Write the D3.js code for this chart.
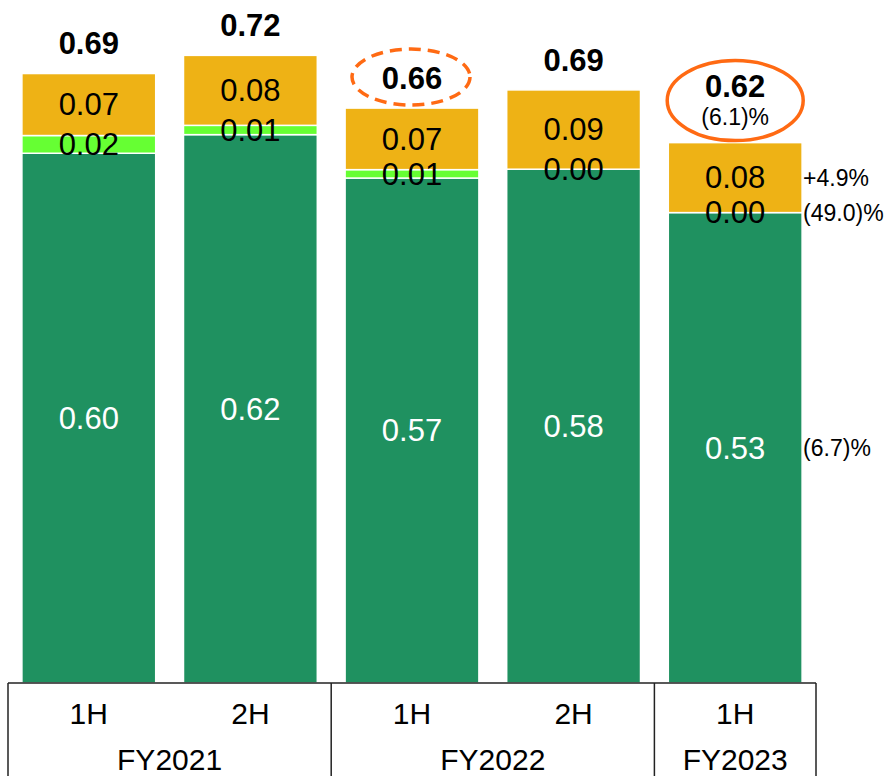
<!DOCTYPE html>
<html lang="en">
<head>
<meta charset="utf-8">
<title>Half-year stacked bars</title>
<script src="https://cdn.jsdelivr.net/npm/d3@7"></script>
<style>
  body { margin: 0; background: #fff; }
  svg { display: block; font-family: Arial, "Liberation Sans", sans-serif; }
</style>
</head>
<body>
<script>
// data
var halves = ["1H", "2H", "1H", "2H", "1H"];
var years = ["FY2021", "FY2022", "FY2023"];
var yearSpan = [2, 2, 1];
var mainVals = [0.598, 0.619, 0.570, 0.580, 0.531];
var smallVals = [0.020, 0.0105, 0.0095, 0, 0];
var otherVals = [0.070, 0.079, 0.0695, 0.0895, 0.079];
var mainLabels = ["0.60", "0.62", "0.57", "0.58", "0.53"];
var smallLabels = ["0.02", "0.01", "0.01", "0.00", "0.00"];
var otherLabels = ["0.07", "0.08", "0.07", "0.09", "0.08"];
var totalLabels = ["0.69", "0.72", "0.66", "0.69", "0.62"];
var changeLabels = ["(6.7)%", "(49.0)%", "+4.9%"]; // main, small, other for last bar
var totalChange = "(6.1)%";

var w = 888, h = 776;
var baseY = 683;
var colors = ["#1f9160", "#66ff33", "#eeb215"];
var ringColor = "#ff6a13";

var svg = d3.select("body").append("svg")
  .attr("width", w)
  .attr("height", h);

var x = d3.scaleBand()
  .domain(d3.range(halves.length))
  .range([8, 816])
  .paddingInner(0.172)
  .paddingOuter(0.086);

var y = d3.scaleLinear()
  .domain([0, 0.771])
  .range([baseY, 0]);

var rows = halves.map(function(d, i) {
  return { main: mainVals[i], small: smallVals[i], other: otherVals[i] };
});
var stack = d3.stack().keys(["main", "small", "other"])(rows);
var labelSets = [mainLabels, smallLabels, otherLabels];

// bars
stack.forEach(function(layer, k) {
  svg.append("g").selectAll("rect")
    .data(layer)
    .enter()
    .append("rect")
    .attr("x", function(d, i) { return x(i); })
    .attr("y", function(d) { return y(d[1]); })
    .attr("width", x.bandwidth())
    .attr("height", function(d) { return y(d[0]) - y(d[1]); })
    .attr("fill", colors[k])
    .attr("stroke", "#fff")
    .attr("stroke-width", 1.5);
});

// segment labels
stack.forEach(function(layer, k) {
  svg.append("g").selectAll("text")
    .data(layer)
    .enter()
    .append("text")
    .attr("x", function(d, i) { return x(i) + x.bandwidth() / 2; })
    .attr("y", function(d) { return (y(d[0]) + y(d[1])) / 2; })
    .attr("dy", "0.35em")
    .attr("text-anchor", "middle")
    .attr("font-size", "31px")
    .attr("fill", k == 0 ? "#fff" : "#000")
    .text(function(d, i) { return labelSets[k][i]; });
});

// totals
var last = halves.length - 1;
svg.append("g").selectAll("text")
  .data(stack[2])
  .enter()
  .append("text")
  .attr("x", function(d, i) { return x(i) + x.bandwidth() / 2; })
  .attr("y", function(d, i) { return y(d[1]) - (i == last ? 56 : 30); })
  .attr("dy", "0.35em")
  .attr("text-anchor", "middle")
  .attr("font-size", "31px")
  .attr("font-weight", "bold")
  .attr("fill", "#000")
  .text(function(d, i) { return totalLabels[i]; });

var lastX = x(last) + x.bandwidth() / 2;
var lastTop = y(stack[2][last][1]);
svg.append("text")
  .attr("x", lastX)
  .attr("y", lastTop - 26)
  .attr("dy", "0.35em")
  .attr("text-anchor", "middle")
  .attr("font-size", "23px")
  .text(totalChange);

// rings
var topOf3 = y(stack[2][2][1]);
svg.append("ellipse")
  .attr("cx", x(2) + x.bandwidth() / 2 - 1)
  .attr("cy", topOf3 - 31)
  .attr("rx", 59)
  .attr("ry", 28)
  .attr("fill", "none")
  .attr("stroke", ringColor)
  .attr("stroke-width", 3.5)
  .attr("stroke-dasharray", "12,7");

svg.append("ellipse")
  .attr("cx", lastX)
  .attr("cy", lastTop - 42)
  .attr("rx", 68)
  .attr("ry", 40)
  .attr("fill", "none")
  .attr("stroke", ringColor)
  .attr("stroke-width", 3.5);

// change notes beside last bar
svg.append("g").selectAll("text")
  .data(stack.map(function(layer) { return layer[last]; }))
  .enter()
  .append("text")
  .attr("x", x(last) + x.bandwidth() + 1)
  .attr("y", function(d) { return (y(d[0]) + y(d[1])) / 2; })
  .attr("dy", "0.35em")
  .attr("font-size", "23px")
  .attr("fill", "#000")
  .text(function(d, i) { return changeLabels[i]; });

// category table under the bars
var left = x.range()[0], right = x.range()[1];
var step = x.step();
svg.append("line")
  .attr("x1", left).attr("x2", right)
  .attr("y1", baseY).attr("y2", baseY)
  .attr("stroke", "#222").attr("stroke-width", 1.5);

var edges = [0];
yearSpan.forEach(function(s) { edges.push(edges[edges.length - 1] + s); });
svg.append("g").selectAll("line")
  .data(edges)
  .enter()
  .append("line")
  .attr("x1", function(d) { return left + d * step; })
  .attr("x2", function(d) { return left + d * step; })
  .attr("y1", baseY)
  .attr("y2", h)
  .attr("stroke", "#222")
  .attr("stroke-width", 1.5);

svg.append("g").selectAll("text")
  .data(halves)
  .enter()
  .append("text")
  .attr("x", function(d, i) { return x(i) + x.bandwidth() / 2; })
  .attr("y", 713)
  .attr("dy", "0.35em")
  .attr("text-anchor", "middle")
  .attr("font-size", "30px")
  .text(function(d) { return d; });

svg.append("g").selectAll("text")
  .data(years)
  .enter()
  .append("text")
  .attr("x", function(d, i) { return left + (edges[i] + edges[i + 1]) / 2 * step; })
  .attr("y", 770)
  .attr("text-anchor", "middle")
  .attr("font-size", "30px")
  .text(function(d) { return d; });
</script>
</body>
</html>
